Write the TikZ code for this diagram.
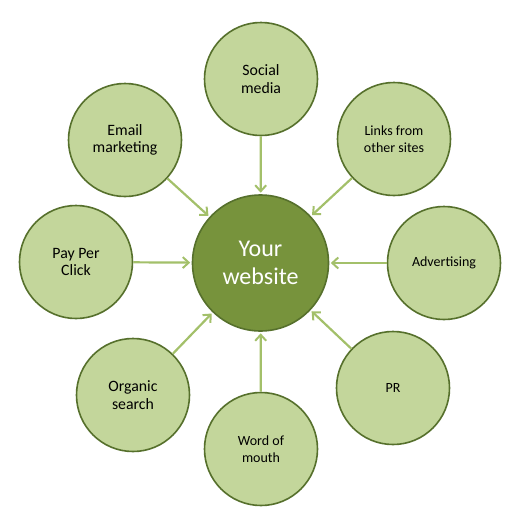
\documentclass[tikz,border=0pt]{standalone}
\usepackage{fontspec}
\setmainfont{Carlito}
\usetikzlibrary{arrows.meta}
\definecolor{outerfill}{HTML}{C3D69B}
\definecolor{outerdraw}{HTML}{56702C}
\definecolor{centerfill}{HTML}{77933C}
\definecolor{arrowcol}{HTML}{A3C06A}
\tikzset{
  src/.style={circle, draw=outerdraw, fill=outerfill, line width=1.6pt, minimum size=113pt, inner sep=0pt, align=center, text=black},
  big/.style={font=\fontsize{15.8}{17.5}\selectfont},
  small/.style={font=\fontsize{14}{16.5}\selectfont},
  hub/.style={circle, draw=outerdraw, fill=centerfill, line width=1.6pt, minimum size=136pt, inner sep=0pt, align=center, text=white, font=\fontsize{24}{28}\selectfont},
  feed/.style={draw=arrowcol, line width=2.2pt, -{Straight Barb[length=6pt,width=11pt,line width=2pt]}, shorten >=1.5pt}
}
\begin{document}
\begin{tikzpicture}[x=1pt,y=-1pt]
\useasboundingbox (0,0) rectangle (528,528);
\node[hub] (c) at (260.5,263) {Your\\website};
\node[src,big] (sm) at (261,79) {Social\\media};
\node[src,small] (lk) at (394,139) {Links from\\other sites};
\node[src,small] (ad) at (444,263) {Advertising};
\node[src,small] (pr) at (393,388) {PR};
\node[src,small] (wm) at (261,449) {Word of\\mouth};
\node[src,big] (os) at (133,395) {Organic\\search};
\node[src,big] (pp) at (76,262) {Pay Per\\Click};
\node[src,big] (em) at (125,140) {Email\\marketing};
\foreach \n in {sm,lk,ad,pr,wm,os,pp,em} \draw[feed] (\n) -- (c);
\end{tikzpicture}
\end{document}
